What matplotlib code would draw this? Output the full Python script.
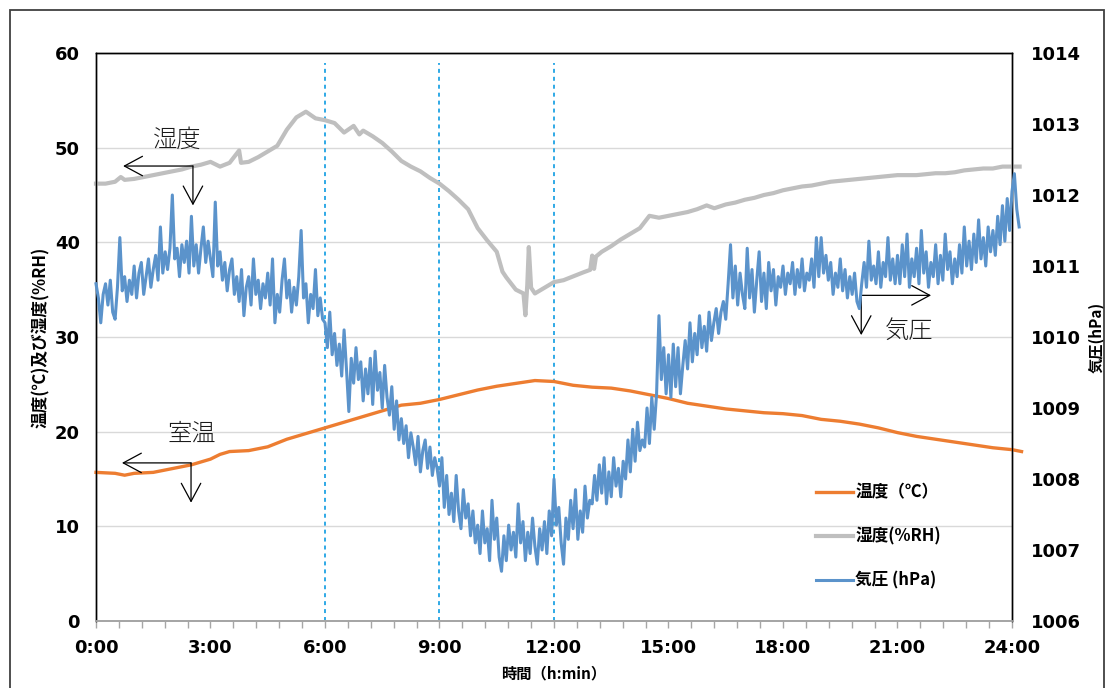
import numpy as np
import matplotlib
matplotlib.use("Agg")
import matplotlib.pyplot as plt
from matplotlib.patches import Rectangle

# ---------------- data ----------------
# Temperature (deg C), time in hours
temp_time = [0.0, 0.5, 0.75, 1.0, 1.5, 2.0, 2.5, 3.0, 3.25, 3.5, 4.0, 4.5, 5.0, 5.5,
             6.0, 6.5, 7.0, 7.5, 8.0, 8.5, 9.0, 9.5, 10.0, 10.5, 11.0, 11.5, 12.0,
             12.5, 13.0, 13.5, 14.0, 14.5, 15.0, 15.5, 16.0, 16.5, 17.0, 17.5, 18.0,
             18.5, 19.0, 19.5, 20.0, 20.5, 21.0, 21.5, 22.0, 22.5, 23.0, 23.5, 24.0, 24.25]
temp_c = [15.7, 15.6, 15.4, 15.6, 15.7, 16.1, 16.5, 17.1, 17.6, 17.9, 18.0, 18.4, 19.2, 19.8,
          20.4, 21.0, 21.6, 22.2, 22.8, 23.0, 23.4, 23.9, 24.4, 24.8, 25.1, 25.4, 25.3,
          24.9, 24.7, 24.6, 24.3, 23.9, 23.5, 23.0, 22.7, 22.4, 22.2, 22.0, 21.9,
          21.7, 21.3, 21.1, 20.8, 20.4, 19.9, 19.5, 19.2, 18.9, 18.6, 18.3, 18.1, 17.9]

# Humidity (%RH)
hum_time = [0.0, 0.25, 0.5, 0.65, 0.75, 1.0, 1.25, 1.5, 1.75, 2.0, 2.25, 2.5, 2.75, 3.0,
            3.25, 3.5, 3.75, 3.8, 4.0, 4.25, 4.5, 4.75, 5.0, 5.25, 5.5, 5.75, 6.0,
            6.25, 6.5, 6.75, 6.9, 7.0, 7.25, 7.5, 7.75, 8.0, 8.25, 8.5, 8.75, 9.0,
            9.25, 9.5, 9.75, 10.0, 10.25, 10.5, 10.65, 10.75, 11.0, 11.2, 11.25, 11.3,
            11.34, 11.4, 11.5, 11.75, 12.0, 12.25, 12.5, 12.75, 12.95, 13.0, 13.05,
            13.1, 13.25, 13.5, 13.75, 14.0, 14.25, 14.5, 14.75, 15.0, 15.25, 15.5,
            15.75, 16.0, 16.2, 16.5, 16.75, 17.0, 17.25, 17.5, 17.75, 18.0, 18.25,
            18.5, 18.75, 19.0, 19.25, 19.5, 19.75, 20.0, 20.25, 20.5, 20.75, 21.0,
            21.25, 21.5, 21.75, 22.0, 22.25, 22.5, 22.75, 23.0, 23.25, 23.5, 23.75,
            24.0, 24.2]
hum_rh = [46.2, 46.2, 46.4, 46.9, 46.6, 46.7, 46.9, 47.1, 47.3, 47.5, 47.7, 48.0, 48.2, 48.5,
          48.0, 48.4, 49.7, 48.4, 48.5, 49.0, 49.6, 50.2, 51.9, 53.2, 53.8, 53.1, 52.9,
          52.6, 51.6, 52.3, 51.4, 51.8, 51.2, 50.5, 49.6, 48.6, 48.0, 47.5, 46.8, 46.2,
          45.4, 44.5, 43.5, 41.5, 40.2, 39.0, 36.9, 36.3, 35.0, 34.6, 32.3, 35.5,
          39.5, 35.2, 34.6, 35.2, 35.8, 36.0, 36.4, 36.8, 37.1, 38.6, 37.2,
          38.5, 39.0, 39.6, 40.3, 40.9, 41.5, 42.8, 42.6, 42.8, 43.0, 43.2,
          43.5, 43.9, 43.6, 44.0, 44.2, 44.5, 44.7, 45.0, 45.2, 45.5, 45.7,
          45.9, 46.0, 46.2, 46.4, 46.5, 46.6, 46.7, 46.8, 46.9, 47.0, 47.1,
          47.1, 47.1, 47.2, 47.3, 47.3, 47.4, 47.6, 47.7, 47.8, 47.8, 48.0,
          48.0, 48.0]

# Pressure (hPa), sampled every 3.75 minutes from 0:00
press_step_h = 0.0625
press_hpa = [
    # 0h
    1010.75, 1010.55, 1010.20, 1010.60, 1010.75, 1010.45, 1010.80, 1010.35,
    1010.25, 1010.70, 1011.40, 1010.65, 1010.85, 1010.50, 1010.80, 1010.60,
    # 1h
    1011.00, 1010.55, 1010.90, 1011.05, 1010.60, 1010.85, 1011.10, 1010.70,
    1010.95, 1011.15, 1010.80, 1011.55, 1010.90, 1011.20, 1010.95, 1011.25,
    # 2h
    1012.00, 1011.10, 1011.25, 1010.85, 1011.30, 1011.05, 1011.35, 1010.90,
    1011.70, 1011.00, 1011.30, 1010.90, 1011.25, 1011.55, 1011.05, 1011.35,
    # 3h
    1011.10, 1010.85, 1011.90, 1011.00, 1011.20, 1010.80, 1011.05, 1010.65,
    1010.95, 1011.10, 1010.60, 1010.85, 1010.50, 1010.95, 1010.30, 1010.70,
    # 4h
    1010.85, 1010.45, 1011.10, 1010.60, 1010.80, 1010.40, 1010.75, 1010.55,
    1010.90, 1010.45, 1011.10, 1010.20, 1010.60, 1010.35, 1010.80, 1011.10,
    # 5h
    1010.55, 1010.80, 1010.35, 1010.70, 1010.45, 1010.85, 1011.50, 1010.55,
    1010.75, 1010.20, 1010.60, 1010.40, 1010.95, 1010.30, 1010.55, 1010.25,
    # 6h
    1010.20, 1009.85, 1010.35, 1009.75, 1010.05, 1009.60, 1009.90, 1009.45,
    1010.10, 1009.55, 1008.95, 1009.70, 1009.35, 1009.85, 1009.40, 1009.65,
    # 7h
    1009.10, 1009.55, 1009.20, 1009.70, 1009.05, 1009.80, 1009.25, 1009.50,
    1009.00, 1009.60, 1009.15, 1008.90, 1009.30, 1008.70, 1009.10, 1008.55,
    # 8h
    1008.85, 1008.50, 1008.75, 1008.30, 1008.65, 1008.45, 1008.20, 1008.60,
    1008.10, 1008.40, 1008.55, 1008.15, 1008.45, 1008.05, 1008.30, 1008.15,
    # 9h
    1007.90, 1008.30, 1007.60, 1008.05, 1007.50, 1007.80, 1007.40, 1008.05,
    1007.55, 1007.30, 1007.85, 1007.45, 1007.65, 1007.20, 1007.55, 1007.10,
    # 10h
    1007.35, 1006.95, 1007.55, 1007.10, 1007.30, 1006.85, 1007.70, 1007.15,
    1007.45, 1006.90, 1006.70, 1007.20, 1006.85, 1007.35, 1007.00, 1007.25,
    # 11h
    1006.90, 1007.65, 1007.10, 1007.40, 1006.85, 1007.25, 1006.95, 1007.45,
    1007.05, 1006.80, 1007.30, 1007.00, 1007.40, 1006.95, 1007.55, 1007.20,
    # 12h
    1008.00, 1007.35, 1007.60, 1007.10, 1006.80, 1007.45, 1007.15, 1007.70,
    1007.30, 1007.85, 1007.15, 1007.55, 1007.25, 1007.90, 1007.45, 1007.70,
    # 13h
    1007.65, 1008.05, 1007.70, 1008.20, 1007.80, 1008.30, 1007.65, 1008.10,
    1007.75, 1008.30, 1007.90, 1008.15, 1007.75, 1008.25, 1008.00, 1008.55,
    # 14h
    1008.10, 1008.70, 1008.25, 1008.80, 1008.40, 1008.55, 1008.45, 1009.00,
    1008.50, 1009.15, 1008.70, 1009.20, 1010.30, 1009.40, 1009.85, 1009.20,
    # 15h
    1009.75, 1009.15, 1009.90, 1009.30, 1009.85, 1009.20, 1009.60, 1009.95,
    1009.55, 1010.20, 1009.65, 1010.05, 1009.75, 1010.30, 1009.85, 1010.15,
    # 16h
    1009.80, 1010.35, 1009.95, 1010.20, 1010.40, 1010.05, 1010.35, 1010.50,
    1010.25, 1010.75, 1011.30, 1010.55, 1011.00, 1010.45, 1010.90, 1010.60,
    # 17h
    1010.40, 1011.25, 1010.55, 1010.95, 1010.35, 1010.80, 1011.20, 1010.50,
    1010.90, 1010.40, 1011.05, 1010.65, 1010.95, 1010.45, 1010.85, 1010.70,
    # 18h
    1011.00, 1010.60, 1010.90, 1010.75, 1011.05, 1010.60, 1010.95, 1010.70,
    1011.10, 1010.65, 1010.90, 1010.80, 1011.10, 1010.70, 1011.40, 1010.85,
    # 19h
    1011.40, 1010.90, 1011.15, 1010.80, 1011.05, 1010.60, 1010.90, 1010.70,
    1011.10, 1010.65, 1010.95, 1010.55, 1010.85, 1010.60, 1010.90, 1010.50,
    # 20h
    1010.40, 1010.75, 1011.05, 1010.70, 1011.35, 1010.80, 1011.00, 1010.75,
    1011.20, 1010.70, 1011.05, 1010.85, 1011.40, 1010.80, 1011.10, 1010.75,
    # 21h
    1011.15, 1010.75, 1011.30, 1010.85, 1011.45, 1010.70, 1011.10, 1010.85,
    1011.25, 1010.75, 1011.50, 1010.90, 1011.20, 1010.70, 1011.05, 1010.85,
    # 22h
    1011.30, 1010.75, 1011.15, 1010.80, 1011.45, 1010.95, 1011.20, 1010.75,
    1011.10, 1010.85, 1011.30, 1010.90, 1011.55, 1011.00, 1011.35, 1010.95,
    # 23h
    1011.45, 1011.05, 1011.65, 1011.10, 1011.40, 1011.00, 1011.55, 1011.20,
    1011.50, 1011.15, 1011.70, 1011.30, 1011.85, 1011.35, 1011.95, 1011.50,
    # 24h and a few readings just past midnight
    1012.05, 1012.30, 1011.80, 1011.55,
]
press_time = np.arange(len(press_hpa)) * press_step_h

x_ticks_h = [0, 3, 6, 9, 12, 15, 18, 21, 24]
x_tick_labels = ["0:00", "3:00", "6:00", "9:00", "12:00", "15:00", "18:00", "21:00", "24:00"]
left_ticks = [0, 10, 20, 30, 40, 50, 60]
right_ticks = [1006, 1007, 1008, 1009, 1010, 1011, 1012, 1013, 1014]
marker_hours = [6, 9, 12]

label_temp = "温度（℃）"
label_hum = "湿度(%RH)"
label_press = "気圧 (hPa)"

# ---------------- style ----------------
C_TEMP = "#ED7D31"
C_HUM = "#BFBFBF"
C_PRESS = "#5B93CB"
C_DASH = "#1FA2E4"
CJK = ["Noto Sans CJK JP", "DejaVu Sans"]

fig = plt.figure(figsize=(11.09, 6.88), dpi=100)
W, H = 1109, 688
ax = fig.add_axes([96 / W, 1 - 621 / H, (1012 - 96) / W, (621 - 53) / H])
ax2 = ax.twinx()

# frame around the chart
fig.patches.append(Rectangle((10 / W, -0.02), (1104 - 10) / W, 1 - 10 / H + 0.02,
                             transform=fig.transFigure, fill=False,
                             edgecolor="#404040", lw=1.3, zorder=0))

ax.set_xlim(0, 24)
ax.set_ylim(0, 60)
ax2.set_ylim(1006, 1014)

ax.set_yticks(left_ticks)
ax2.set_yticks(right_ticks)
ax.set_xticks(x_ticks_h)
ax.set_xticklabels(x_tick_labels)
ax.set_xticks(np.arange(0, 24.01, 0.6), minor=True)

ax.grid(axis="y", color="#D9D9D9", lw=1.0)
ax.set_axisbelow(True)

for a in (ax, ax2):
    for s in ("left", "right", "top"):
        a.spines[s].set_color("black")
        a.spines[s].set_linewidth(1.0)
    a.spines["bottom"].set_color("#A6A6A6")
    a.spines["bottom"].set_linewidth(1.3)

ax.tick_params(axis="y", length=0, pad=11.5, labelsize=13)
ax2.tick_params(axis="y", length=0, pad=13.5, labelsize=13)
ax.tick_params(axis="x", which="both", direction="out", length=5, color="#A6A6A6",
               width=1.0, pad=8, labelsize=13)
for lab in ax.get_yticklabels() + ax2.get_yticklabels() + ax.get_xticklabels():
    lab.set_fontweight("bold")

# dashed marker lines
ax.vlines(marker_hours, 0, 58.9, colors=C_DASH, linestyles=(0, (2.2, 2.2)), lw=1.3, zorder=1)

# series
l_temp, = ax.plot(temp_time, temp_c, color=C_TEMP, lw=2.4, clip_on=False, zorder=3,
                  solid_joinstyle="round")
l_hum, = ax.plot(hum_time, hum_rh, color=C_HUM, lw=3.0, clip_on=False, zorder=3,
                 solid_joinstyle="round")
l_press, = ax2.plot(press_time, press_hpa, color=C_PRESS, lw=2.2, clip_on=False, zorder=3,
                    solid_joinstyle="round")

# axis labels
ax.set_xlabel("時間（h:min）", family=CJK, fontweight="bold", fontsize=11, labelpad=6)
ax.set_ylabel("温度(℃)及び湿度(%RH)", family=CJK, fontweight="bold", fontsize=12)
ax.yaxis.set_label_coords(-0.050, 0.5)
ax2.set_ylabel("気圧(hPa)", family=CJK, fontweight="bold", fontsize=11)
ax2.yaxis.set_label_coords(1.083, 0.5)

# annotations with open arrows
arr = dict(arrowstyle="->,head_length=1.3,head_width=0.7", color="black", lw=0.9,
           shrinkA=0, shrinkB=0)


def callout(text, tx, ty, jx, jy, hx, vy):
    ax.annotate("", xy=(hx, jy), xytext=(jx, jy), arrowprops=arr)
    ax.annotate("", xy=(jx, vy), xytext=(jx, jy), arrowprops=arr)
    ax.text(tx, ty, text, family=CJK, fontsize=17.5, fontweight="light",
            ha="center", va="center", color="#1a1a1a")


callout("湿度", 2.12, 50.8, 2.54, 48.06, 0.71, 43.9)
callout("室温", 2.51, 19.75, 2.49, 16.7, 0.68, 12.5)
callout("気圧", 21.3, 30.6, 20.05, 34.4, 21.88, 30.2)

# legend
leg = ax2.legend([l_temp, l_hum, l_press], [label_temp, label_hum, label_press],
                 loc="upper left", bbox_to_anchor=(0.770, 0.268), frameon=False,
                 prop={"family": CJK, "weight": "bold", "size": 12},
                 handlelength=2.2, labelspacing=1.55, handletextpad=0.15)

fig.savefig("out.png", dpi=100)
